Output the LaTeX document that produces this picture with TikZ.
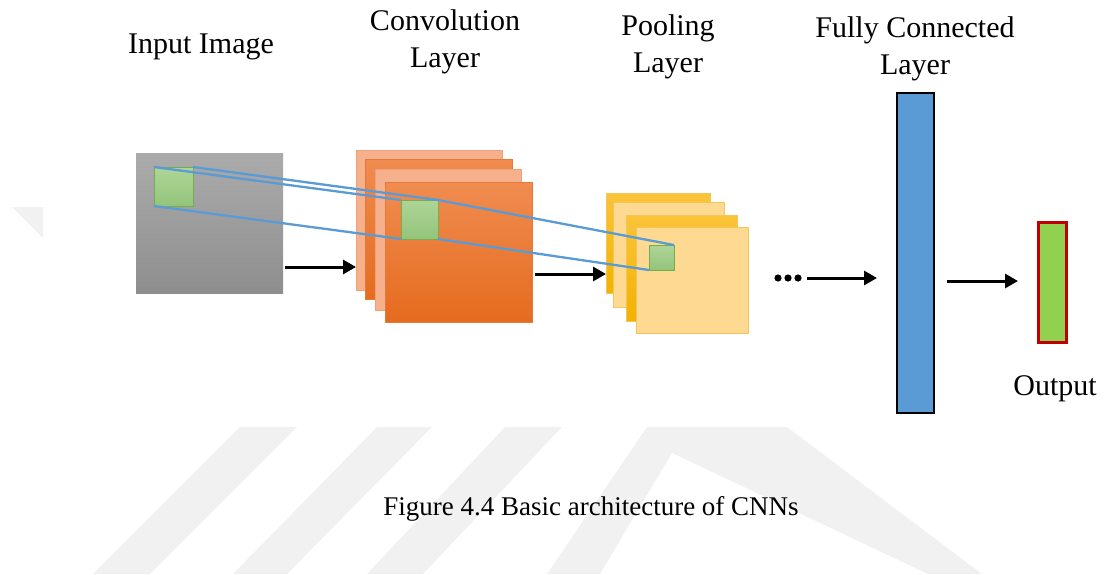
\documentclass[tikz,border=0pt]{standalone}
\usepackage{fontspec}
\setmainfont{Liberation Serif}
\usetikzlibrary{arrows.meta,calc}
\definecolor{wm}{HTML}{F1F1F1}
\definecolor{inTop}{HTML}{ABABAB}
\definecolor{inBot}{HTML}{8E8E8E}
\definecolor{salmon}{HTML}{F6B08C}
\definecolor{salmonB}{HTML}{EFA27A}
\definecolor{orTop}{HTML}{F08C50}
\definecolor{orBot}{HTML}{E56B1E}
\definecolor{orB}{HTML}{E8793A}
\definecolor{yeTop}{HTML}{FAC43A}
\definecolor{yeBot}{HTML}{F2B200}
\definecolor{ltY}{HTML}{FDD991}
\definecolor{ltYB}{HTML}{F5C55A}
\definecolor{grTop}{HTML}{AED596}
\definecolor{grBot}{HTML}{94C47C}
\definecolor{grB}{HTML}{72AE4C}
\definecolor{blueL}{HTML}{5B9BD5}
\definecolor{outG}{HTML}{92D050}
\definecolor{outR}{HTML}{C00000}
\tikzset{
  box/.style={rectangle, inner sep=0pt, outer sep=0pt, anchor=north west},
  lbl/.style={font=\fontsize{30}{37}\selectfont, align=center, inner sep=0pt, anchor=base},
  arr/.style={line width=3pt, -{Triangle[length=13pt,width=14pt]}},
  conn/.style={draw=blueL, line width=2.3pt},
  sheetS/.style={box, fill=salmon, draw=salmonB, line width=0.8pt},
  sheetO/.style={box, top color=orTop, bottom color=orBot, draw=orB, line width=0.8pt},
  sheetY/.style={box, top color=yeTop, bottom color=yeBot, draw=ltYB, line width=0.8pt},
  sheetL/.style={box, fill=ltY, draw=ltYB, line width=0.8pt},
  gsq/.style={box, top color=grTop, bottom color=grBot, draw=grB, line width=0.8pt}
}
\begin{document}
\begin{tikzpicture}[x=1pt,y=-1pt]
\useasboundingbox (0,0) rectangle (1105,574);
% watermark
\fill[wm] (12,207) -- (43,207) -- (43,238) -- cycle;
\fill[wm] (240,427) -- (297,427) -- (150,574) -- (93,574) -- cycle;
\fill[wm] (377,427) -- (432,427) -- (287,574) -- (233,574) -- cycle;
\fill[wm] (505,427) -- (562,427) -- (423,574) -- (367,574) -- cycle;
\fill[wm] (547,574) -- (647,427) -- (787,427) -- (982,574) -- (928,574) -- (672,453) -- (600,574) -- cycle;
% labels
\node[lbl] (tin) at (201,53) {Input Image};
\node[lbl] (tconv) at (445,67) {Convolution\\Layer};
\node[lbl] (tpool) at (668,72) {Pooling\\Layer};
\node[lbl] (tfc) at (915,74) {Fully Connected\\Layer};
\node[lbl] (tout) at (1055,395) {Output};
\node[lbl, font=\fontsize{27}{32}\selectfont] (cap) at (591,515) {Figure 4.4 Basic architecture of CNNs};
% input image
\node[box, top color=inTop, bottom color=inBot, minimum width=147pt, minimum height=140pt] (in) at (136,153) {};
\node[gsq, minimum width=39pt, minimum height=39pt] (gin) at (154,167) {};
% convolution layer
\node[sheetS, minimum width=146pt, minimum height=140pt] (c1) at (356,150) {};
\node[sheetO, minimum width=147pt, minimum height=140pt] (c2) at (365,159) {};
\node[sheetS, minimum width=146pt, minimum height=141pt] (c3) at (375,169) {};
\node[sheetO, minimum width=147pt, minimum height=140pt] (c4) at (385,182) {};
\node[gsq, minimum width=37pt, minimum height=39pt] (gc) at (401,200) {};
% pooling layer
\node[sheetY, minimum width=104pt, minimum height=100pt] (p1) at (606,193) {};
\node[sheetL, minimum width=111pt, minimum height=105pt] (p2) at (613,202) {};
\node[sheetY, minimum width=111pt, minimum height=106pt] (p3) at (626,215) {};
\node[sheetL, minimum width=112pt, minimum height=106pt] (p4) at (636,227) {};
\node[gsq, minimum width=25pt, minimum height=25pt] (gp) at (649,245) {};
% fully connected
\node[box, fill=blueL, draw=black, line width=2pt, minimum width=37pt, minimum height=320pt] (fc) at (897,93) {};
% output
\node[box, fill=outG, draw=outR, line width=3pt, minimum width=28pt, minimum height=120pt] (out) at (1038,222) {};
% dots
\node[inner sep=0pt, minimum width=28pt, minimum height=8pt] (dots) at (788,278) {};
\foreach \dx in {-10,0,10} \fill (788+\dx,278) circle (3.6pt);
% blue connection lines
\draw[conn] (gin.north west) -- (gc.north west);
\draw[conn] (gin.north east) -- (gc.north east) -- (gp.north east);
\draw[conn] (gin.south west) -- (gc.south west);
\draw[conn] (gc.south east) -- (gp.south west);
% arrows
\draw[arr] (in.east |- 0,267) ++(2,0) -- (c1.west |- 0,267);
\draw[arr] (c4.east |- 0,274) ++(3,0) -- (p1.west |- 0,274);
\draw[arr, shorten >=20pt, shorten <=5pt] (dots.east) -- (fc.west |- dots.east);
\draw[arr, shorten >=20pt, shorten <=13pt] (fc.east |- 0,281) -- (out.west |- 0,281);
\end{tikzpicture}
\end{document}
